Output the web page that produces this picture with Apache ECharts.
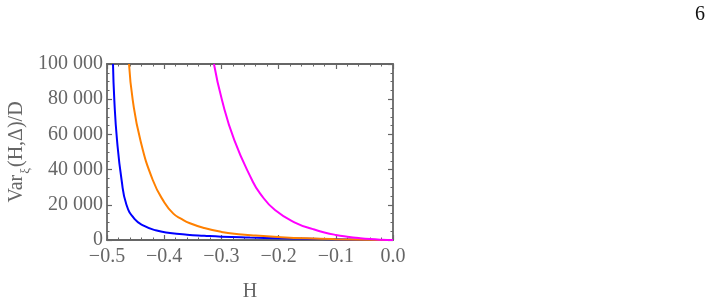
<!DOCTYPE html>
<html>
<head>
<meta charset="utf-8">
<script src="https://cdn.jsdelivr.net/npm/echarts@6/dist/echarts.min.js"></script>
<style>
  html, body { margin: 0; padding: 0; background: #fff; }
  #chart { width: 719px; height: 301px; }
</style>
</head>
<body>
<div id="chart"></div>
<script>
// values
var hBlue   = [-0.4895, -0.4872, -0.4825, -0.4745, -0.466, -0.452, -0.435, -0.415, -0.39, -0.36, -0.33, -0.3, -0.25, -0.2, -0.15, -0.1, -0.05, 0];
var varBlue = [100000, 79500, 56800, 34100, 20000, 12000, 8000, 5500, 4000, 3000, 2400, 1900, 1400, 1000, 700, 450, 200, 0];

var hOrange   = [-0.4615, -0.455, -0.4417, -0.42, -0.40, -0.384, -0.37, -0.355, -0.33, -0.3, -0.27, -0.24, -0.2, -0.15, -0.1, -0.05, 0];
var varOrange = [100000, 79500, 56800, 34100, 21500, 15000, 12000, 9500, 6800, 4600, 3300, 2500, 1700, 950, 450, 150, 0];

var hMagenta   = [-0.313, -0.299, -0.2774, -0.2465, -0.2325, -0.2063, -0.1684, -0.14, -0.12, -0.1, -0.08, -0.06, -0.04, -0.02, 0];
var varMagenta = [100000, 79500, 56800, 34100, 26500, 17000, 9470, 6200, 4300, 2900, 1900, 1100, 500, 150, 0];

var xTicks = { min: -0.5, max: 0, interval: 0.1 };
var yTicks = { min: 0, max: 100000, interval: 20000 };

var frameColor = '#666666';
var serif = 'Liberation Serif';

function pairs(xs, ys) {
  return xs.map(function (x, i) { return [x, ys[i]]; });
}

function fmtX(v) {
  var s = Math.abs(v).toFixed(1);
  return v < -1e-9 ? '\u2212' + s : s;
}

function fmtY(v) {
  var s = String(Math.round(v));
  if (s.length > 3) s = s.slice(0, s.length - 3) + ' ' + s.slice(s.length - 3);
  return s;
}

function frameAxis(extra) {
  var base = {
    type: 'value',
    axisLine: { show: true, onZero: false, lineStyle: { color: frameColor, width: 1.8 } },
    axisTick: { show: true, inside: true, length: 5, lineStyle: { color: frameColor, width: 1.2 } },
    minorTick: { show: true, length: 2.5, lineStyle: { color: frameColor, width: 1 } },
    splitLine: { show: false },
    axisLabel: { show: false }
  };
  for (var k in extra) base[k] = extra[k];
  return base;
}

var chart = echarts.init(document.getElementById('chart'));

chart.setOption({
  backgroundColor: '#fff',
  animation: false,
  textStyle: { fontFamily: serif },
  grid: { left: 107, right: 326, top: 64, bottom: 61, containLabel: false, outerBoundsMode: 'none' },
  xAxis: [
    frameAxis({
      position: 'bottom', min: xTicks.min, max: xTicks.max, interval: xTicks.interval,
      minorTick: { show: true, splitNumber: 5, length: 2.5, lineStyle: { color: frameColor, width: 1 } },
      axisLabel: { show: true, formatter: fmtX, color: frameColor, fontSize: 20, fontFamily: serif, margin: 7 },
      name: 'H', nameLocation: 'middle', nameGap: 42,
      nameTextStyle: { color: frameColor, fontSize: 20, fontFamily: serif }
    }),
    frameAxis({
      position: 'top', min: xTicks.min, max: xTicks.max, interval: xTicks.interval,
      minorTick: { show: true, splitNumber: 5, length: 2.5, lineStyle: { color: frameColor, width: 1 } }
    })
  ],
  yAxis: [
    frameAxis({
      position: 'left', min: yTicks.min, max: yTicks.max, interval: yTicks.interval,
      minorTick: { show: true, splitNumber: 4, length: 2.5, lineStyle: { color: frameColor, width: 1 } },
      axisLabel: { show: true, formatter: fmtY, color: frameColor, fontSize: 20, fontFamily: serif, margin: 4 },
      name: '{n|Var}{s|ξ}{n|(H,Δ)/D}', nameLocation: 'middle', nameGap: 80, nameRotate: 90,
      nameTextStyle: {
        color: frameColor, fontSize: 20, fontFamily: serif,
        rich: {
          n: { color: frameColor, fontSize: 20, fontFamily: serif, verticalAlign: 'bottom' },
          s: { color: frameColor, fontSize: 13, fontFamily: serif, verticalAlign: 'bottom', padding: [0, 1, -5, 1] }
        }
      }
    }),
    frameAxis({
      position: 'right', min: yTicks.min, max: yTicks.max, interval: yTicks.interval,
      minorTick: { show: true, splitNumber: 4, length: 2.5, lineStyle: { color: frameColor, width: 1 } }
    })
  ],
  graphic: [
    { type: 'text', right: 14, top: 5, style: { text: '6', fill: '#111', font: '20px "Liberation Serif"' } }
  ],
  series: [
    { type: 'line', data: pairs(hBlue, varBlue), smooth: 0.5, showSymbol: false,
      lineStyle: { color: '#0000ff', width: 2 }, itemStyle: { color: '#0000ff' } },
    { type: 'line', data: pairs(hOrange, varOrange), smooth: 0.5, showSymbol: false,
      lineStyle: { color: '#ff8000', width: 2 }, itemStyle: { color: '#ff8000' } },
    { type: 'line', data: pairs(hMagenta, varMagenta), smooth: 0.5, showSymbol: false,
      lineStyle: { color: '#ff00ff', width: 2 }, itemStyle: { color: '#ff00ff' } }
  ]
});
</script>
</body>
</html>
